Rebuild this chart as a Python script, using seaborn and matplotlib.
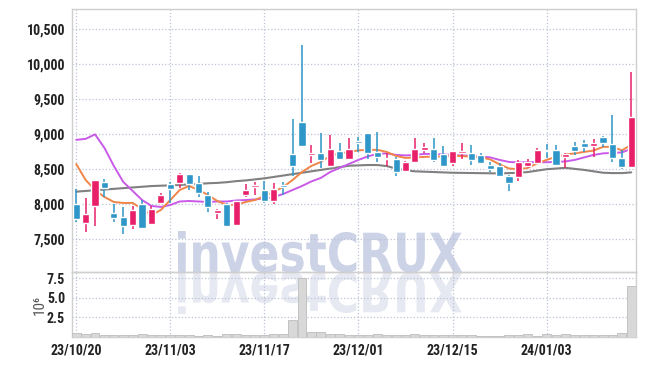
import numpy as np
import pandas as pd
import seaborn as sns
import matplotlib
matplotlib.use("Agg")
import matplotlib.pyplot as plt
from matplotlib.ticker import FuncFormatter
from matplotlib.textpath import TextPath
from matplotlib.patches import PathPatch
from matplotlib.font_manager import FontProperties
from matplotlib.transforms import Affine2D

# trading days shown on the x axis
dates = ["23/10/20", "23/10/23", "23/10/24", "23/10/25", "23/10/26", "23/10/27", "23/10/30", "23/10/31",
         "23/11/01", "23/11/02", "23/11/03", "23/11/06", "23/11/07", "23/11/08", "23/11/09", "23/11/10",
         "23/11/13", "23/11/14", "23/11/15", "23/11/16", "23/11/17", "23/11/20", "23/11/21", "23/11/22",
         "23/11/23", "23/11/24", "23/11/27", "23/11/28", "23/11/29", "23/11/30", "23/12/01", "23/12/04",
         "23/12/05", "23/12/06", "23/12/07", "23/12/08", "23/12/11", "23/12/12", "23/12/13", "23/12/14",
         "23/12/15", "23/12/18", "23/12/19", "23/12/20", "23/12/21", "23/12/22", "23/12/26", "23/12/27",
         "23/12/28", "24/01/02", "24/01/03", "24/01/04", "24/01/05", "24/01/08", "24/01/09", "24/01/10",
         "24/01/11", "24/01/12", "24/01/15", "24/01/16"]

opens = [8000, 7730, 7975, 8320, 7880, 7825, 7705, 8005, 7720, 8015,
         8295, 8300, 8435, 8300, 8135, 7870, 8005, 7700, 8135, 8245,
         8205, 8040, 8280, 8720, 9175, 8700, 8725, 8540, 8760, 8650,
         8905, 9015, 8750, 8640, 8645, 8480, 8610, 8775, 8790, 8720,
         8585, 8730, 8730, 8700, 8560, 8545, 8410, 8385, 8540, 8585,
         8775, 8775, 8670, 8825, 8870, 8835, 8965, 8860, 8665, 8525]
highs = [8220, 8095, 8350, 8360, 8000, 7965, 7975, 8060, 7975, 8165,
         8320, 8440, 8435, 8405, 8180, 7930, 8015, 8050, 8285, 8320,
         8335, 8310, 8320, 9215, 10275, 8845, 9015, 8990, 8870, 8950,
         8955, 9015, 9035, 8730, 8680, 8615, 8950, 8880, 8945, 8825,
         8765, 8870, 8845, 8730, 8610, 8590, 8420, 8635, 8645, 8800,
         8860, 8845, 8725, 8895, 8910, 8930, 8975, 9275, 8775, 9880]
lows = [7750, 7610, 7690, 8100, 7750, 7570, 7645, 7650, 7705, 8005,
        8020, 8230, 8200, 8100, 7895, 7785, 7680, 7695, 8110, 8135,
        8015, 8005, 8130, 8410, 8815, 8585, 8520, 8530, 8640, 8640,
        8750, 8645, 8610, 8540, 8410, 8470, 8600, 8730, 8610, 8530,
        8550, 8645, 8560, 8580, 8465, 8400, 8195, 8325, 8515, 8580,
        8655, 8555, 8515, 8705, 8740, 8680, 8820, 8610, 8500, 8520]
closes = [7790, 7860, 8345, 8235, 7810, 7695, 7920, 7665, 7930, 8135,
          8220, 8435, 8290, 8165, 7965, 7920, 7690, 8045, 8205, 8270,
          8050, 8220, 8250, 8540, 8825, 8730, 8635, 8790, 8650, 8790,
          8880, 8735, 8680, 8660, 8465, 8610, 8785, 8820, 8635, 8550,
          8760, 8760, 8625, 8595, 8505, 8410, 8310, 8600, 8610, 8775,
          8760, 8560, 8720, 8765, 8810, 8870, 8880, 8665, 8525, 9250]

ma_short = [8574, 8347, 8204, 8104, 8033, 8019, 8019, 7933, 7847, 7919,
            8061, 8204, 8261, 8204, 8133, 8047, 7990, 7990, 8033, 8061,
            8119, 8176, 8247, 8347, 8461, 8547, 8604, 8690, 8726, 8747,
            8769, 8776, 8776, 8747, 8690, 8661, 8669, 8676, 8680, 8680,
            8690, 8686, 8680, 8669, 8640, 8569, 8511, 8500, 8519, 8583,
            8633, 8676, 8711, 8726, 8747, 8766, 8819, 8819, 8769, 8847]
ma_mid = [8919, 8933, 8997, 8804, 8547, 8319, 8190, 8061, 7976, 7962,
          7990, 8040, 8047, 8040, 8033, 8040, 8040, 8054, 8061, 8069,
          8083, 8104, 8147, 8204, 8261, 8326, 8376, 8461, 8519, 8576,
          8633, 8683, 8719, 8726, 8704, 8697, 8704, 8719, 8716, 8711,
          8704, 8697, 8690, 8680, 8669, 8633, 8604, 8597, 8600, 8600,
          8600, 8604, 8611, 8633, 8669, 8704, 8726, 8733, 8740, 8790]
ma_long = [8180, 8190, 8200, 8210, 8220, 8230, 8240, 8250, 8260, 8265,
           8270, 8275, 8285, 8290, 8300, 8305, 8315, 8330, 8340, 8355,
           8370, 8390, 8410, 8430, 8450, 8470, 8490, 8510, 8530, 8550,
           8555, 8560, 8560, 8545, 8510, 8485, 8470, 8465, 8460, 8455,
           8450, 8448, 8446, 8444, 8442, 8440, 8445, 8450, 8460, 8480,
           8500, 8510, 8520, 8505, 8490, 8470, 8450, 8445, 8445, 8455]

# volume in millions of shares
volume = [0.45, 0.3, 0.45, 0.25, 0.2, 0.25, 0.2, 0.3, 0.2, 0.2,
          0.25, 0.2, 0.2, 0.15, 0.2, 0.15, 0.3, 0.3, 0.2, 0.2,
          0.25, 0.3, 0.35, 2.2, 7.5, 0.55, 0.55, 0.4, 0.4, 0.25,
          0.2, 0.2, 0.3, 0.25, 0.2, 0.25, 0.3, 0.2, 0.2, 0.2,
          0.2, 0.2, 0.2, 0.15, 0.15, 0.15, 0.2, 0.2, 0.3, 0.15,
          0.3, 0.2, 0.3, 0.2, 0.2, 0.25, 0.2, 0.2, 0.45, 6.5]

sns.set_theme(style="white")
plt.rcParams['font.family'] = ['Roboto Condensed', 'DejaVu Sans Condensed', 'Roboto', 'DejaVu Sans']
plt.rcParams['font.stretch'] = 'condensed'

df = pd.DataFrame({"date": dates, "open": opens, "high": highs, "low": lows,
                   "close": closes, "ma5": ma_short, "ma20": ma_mid, "ma60": ma_long,
                   "vol": volume})
df["idx"] = np.arange(len(df))

UP = "#e8206a"
DOWN = "#2e96c8"
GRID = "#bcc3d6"
SPINE = "#cfcfcf"

fig = plt.figure(figsize=(6.45, 3.66), dpi=100)
fig.patch.set_facecolor("white")
ax = fig.add_axes([0.1116, 0.256, 0.8744, 0.7194], zorder=2)
axv = fig.add_axes([0.1116, 0.080, 0.8744, 0.176], zorder=2)
for a in (ax, axv):
    a.set_facecolor("none")

# candles
up = df["close"] >= df["open"]
cols = np.where(up, UP, DOWN)
body_lo = np.minimum(df["open"], df["close"])
body_h = np.maximum((df["close"] - df["open"]).abs(), 18)
ax.vlines(df["idx"], df["low"], df["high"], colors=cols, lw=1.1, zorder=3)
ax.bar(df["idx"], body_h, bottom=body_lo, width=0.76, color=cols, zorder=4)

# moving averages
sns.lineplot(data=df, x="idx", y="ma60", ax=ax, color="#808080", lw=1.5, zorder=2)
sns.lineplot(data=df, x="idx", y="ma20", ax=ax, color="#c95ae8", lw=1.4, zorder=2)
sns.lineplot(data=df, x="idx", y="ma5", ax=ax, color="#ef8548", lw=1.4, zorder=2)

# volume
sns.barplot(data=df, x="idx", y="vol", ax=axv, native_scale=True, color="#d8d8d8",
            edgecolor="#bdbdbd", linewidth=0.6, width=0.95, errorbar=None, zorder=3)

ticks = [0, 10, 20, 30, 40, 50]
for a in (ax, axv):
    a.set_xlim(-0.45, 59.5)
    a.set_xticks(ticks)
    a.grid(True, ls=":", color=GRID, lw=0.9)
    a.set_axisbelow(True)
    a.tick_params(length=0, labelsize=10, labelcolor="#222222", pad=5)
    for s in a.spines.values():
        s.set_color(SPINE)
        s.set_linewidth(1)
    a.set_xlabel("")
    a.set_ylabel("")

ax.set_xticklabels([])
axv.set_xticklabels([dates[t] for t in ticks], fontweight="bold")

ax.set_ylim(7030, 10785)
ax.set_yticks([7500, 8000, 8500, 9000, 9500, 10000, 10500])
ax.yaxis.set_major_formatter(FuncFormatter(lambda v, p: f"{v:,.0f}"))
for lab in ax.get_yticklabels():
    lab.set_fontweight("bold")

axv.set_ylim(0, 8.26)
axv.set_yticks([2.5, 5.0, 7.5])
axv.set_yticklabels(["2.5", "5.0", "7.5"], fontweight="bold")
axv.set_ylabel("10\u2076", color="#555555", fontsize=11,
               family=['Roboto Condensed', 'DejaVu Sans'])
axv.yaxis.set_label_coords(-0.045, 0.5)

# watermark with reflection, behind the data
wm = fig.add_axes([0, 0, 1, 1], zorder=0)
wm.set_xlim(0, 645)
wm.set_ylim(366, 0)
wm.axis("off")
tp = TextPath((0, 0), "investCRUX", size=100,
              prop=FontProperties(family="DejaVu Sans", weight="bold"))
bb = tp.get_extents()
sx = 284 / bb.width
sy = 41 / bb.y1
t_main = Affine2D().translate(-bb.x0, 0).scale(sx, -sy).translate(178, 272) + wm.transData
t_refl = Affine2D().translate(-bb.x0, 0).scale(sx, sy).translate(178, 273) + wm.transData
wm.add_patch(PathPatch(tp, transform=t_refl, facecolor="#e6e9f1", edgecolor="none"))
wm.add_patch(PathPatch(tp, transform=t_main, facecolor="#cdd3e6", edgecolor="none"))

fig.savefig("out.png", dpi=100)
